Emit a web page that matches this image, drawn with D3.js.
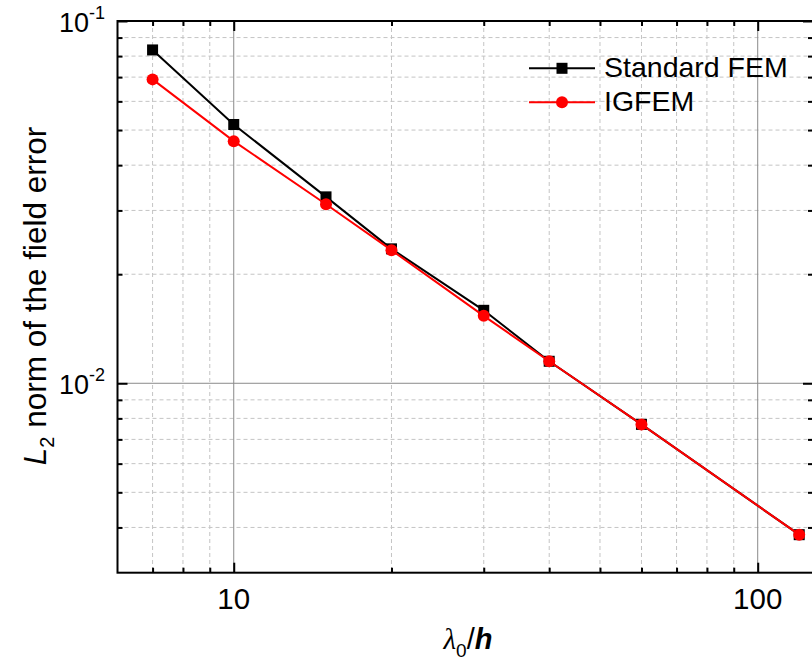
<!DOCTYPE html>
<html><head><meta charset="utf-8">
<script src="https://cdn.jsdelivr.net/npm/d3@7/dist/d3.min.js"></script>
<style>body{margin:0;background:#fff}svg{display:block}text{font-family:"Liberation Sans",Arial,sans-serif}</style>
</head><body><svg id="c" width="812" height="666"></svg>
<script>
const xValues = [7, 10, 15, 20, 30, 40, 60, 120];
const standardFEM = [0.0832, 0.0518, 0.0327, 0.0235, 0.0159, 0.0115, 0.0077, 0.00382];
const igfem = [0.069, 0.0466, 0.0312, 0.0233, 0.01535, 0.0115, 0.0077, 0.00382];
const xMajorTicks = [10, 100];
const xMinorTicks = [7, 8, 9, 20, 30, 40, 50, 60, 70, 80, 90];
const yMajorTicks = [0.01, 0.1];
const yMinorTicks = [0.004, 0.005, 0.006, 0.007, 0.008, 0.009, 0.02, 0.03, 0.04, 0.05, 0.06, 0.07, 0.08, 0.09];
const yTickExp = ["-2", "-1"];
const seriesNames = ["Standard FEM", "IGFEM"];

const L = 117.5, R = 813, T = 21, B = 572.7;
const svg = d3.select("#c");
const x = d3.scaleLog().domain([6, 127.5]).range([L, R]);
const y = d3.scaleLog().domain([0.003, 0.1]).range([B, T]);

const g = svg.append("g");
// minor grid
g.selectAll(".vx").data(xMinorTicks).join("line")
  .attr("x1", d => x(d)).attr("x2", d => x(d)).attr("y1", T).attr("y2", B)
  .attr("stroke", "#c4c4c4").attr("stroke-width", 1).attr("stroke-dasharray", "4,3");
g.selectAll(".hy").data(yMinorTicks).join("line")
  .attr("y1", d => y(d)).attr("y2", d => y(d)).attr("x1", L).attr("x2", R)
  .attr("stroke", "#c4c4c4").attr("stroke-width", 1).attr("stroke-dasharray", "4,3");
// major grid
g.selectAll(".mx").data(xMajorTicks).join("line")
  .attr("x1", d => x(d)).attr("x2", d => x(d)).attr("y1", T).attr("y2", B)
  .attr("stroke", "#8a8a8a").attr("stroke-width", 1);
g.selectAll(".my").data(yMajorTicks).join("line")
  .attr("y1", d => y(d)).attr("y2", d => y(d)).attr("x1", L).attr("x2", R)
  .attr("stroke", "#8a8a8a").attr("stroke-width", 1);

// axes with inward ticks
function ax(axisFn, scale, vals, size, transform) {
  const a = svg.append("g").attr("transform", transform)
    .call(axisFn(scale).tickValues(vals).tickSize(size).tickFormat(""));
  a.select(".domain").remove();
  a.selectAll(".tick line").attr("stroke", "#000").attr("stroke-width", 2);
}
ax(d3.axisTop, x, xMajorTicks, 10, `translate(0,${B})`);
ax(d3.axisTop, x, xMinorTicks, 5, `translate(0,${B})`);
ax(d3.axisBottom, x, xMajorTicks, 10, `translate(0,${T})`);
ax(d3.axisBottom, x, xMinorTicks, 5, `translate(0,${T})`);
ax(d3.axisRight, y, yMajorTicks, 10, `translate(${L},0)`);
ax(d3.axisRight, y, yMinorTicks, 5, `translate(${L},0)`);
ax(d3.axisLeft, y, yMajorTicks, 10, `translate(${R},0)`);
ax(d3.axisLeft, y, yMinorTicks, 5, `translate(${R},0)`);
svg.append("rect").attr("x", L).attr("y", T).attr("width", R - L).attr("height", B - T)
  .attr("fill", "none").attr("stroke", "#000").attr("stroke-width", 2);

// tick labels
svg.selectAll(".xl").data(xMajorTicks).join("text")
  .attr("x", d => x(d)).attr("y", B + 36).attr("text-anchor", "middle")
  .attr("font-size", 29.5).text(d => d);
const yl = svg.selectAll(".yl").data(yMajorTicks).join("text")
  .attr("x", 105).attr("y", d => y(d) + 11).attr("text-anchor", "end").attr("font-size", 27);
yl.append("tspan").text("10");
yl.append("tspan").attr("dy", -13).attr("font-size", 18).text((d, i) => yTickExp[i]);

// series
const line = d3.line().x(d => x(d[0])).y(d => y(d[1]));
const sets = [
  {v: standardFEM, color: "#000", shape: "square"},
  {v: igfem, color: "#ff0000", shape: "circle"}
];
sets.forEach(s => {
  const pts = xValues.map((xv, i) => [xv, s.v[i]]);
  svg.append("path").datum(pts).attr("d", line).attr("fill", "none")
    .attr("stroke", s.color).attr("stroke-width", 2);
  if (s.shape === "square") {
    svg.selectAll(null).data(pts).join("rect")
      .attr("x", d => x(d[0]) - 5.5).attr("y", d => y(d[1]) - 5.5)
      .attr("width", 11).attr("height", 11).attr("fill", s.color);
  } else {
    svg.selectAll(null).data(pts).join("circle")
      .attr("cx", d => x(d[0])).attr("cy", d => y(d[1])).attr("r", 6).attr("fill", s.color);
  }
});

// legend
const legY = [68.3, 102.3];
sets.forEach((s, i) => {
  const ly = legY[i];
  svg.append("line").attr("x1", 529).attr("x2", 595).attr("y1", ly).attr("y2", ly)
    .attr("stroke", s.color).attr("stroke-width", 2);
  if (s.shape === "square") svg.append("rect").attr("x", 556.5).attr("y", ly - 5.5)
    .attr("width", 11).attr("height", 11).attr("fill", s.color);
  else svg.append("circle").attr("cx", 562).attr("cy", ly).attr("r", 6).attr("fill", s.color);
  svg.append("text").attr("x", 604).attr("y", ly + 8.6).attr("font-size", 28.5).text(seriesNames[i]);
});

// x label
const xt = svg.append("text").attr("x", 468).attr("y", 649).attr("text-anchor", "middle").attr("font-size", 29);
xt.append("tspan").attr("font-family", "Liberation Serif").attr("font-style", "italic").text("λ");
xt.append("tspan").attr("font-size", 19).attr("dy", 8).text("0");
xt.append("tspan").attr("dy", -8).text("/");
xt.append("tspan").attr("font-style", "italic").attr("font-weight", "bold").text("h");

// y label
const yt = svg.append("text").attr("transform", "translate(46,296) rotate(-90)")
  .attr("text-anchor", "middle").attr("font-size", 31.5);
yt.append("tspan").attr("font-style", "italic").text("L");
yt.append("tspan").attr("font-size", 20).attr("dy", 8).text("2");
yt.append("tspan").attr("dy", -8).text(" norm of the field error");
</script></body></html>
